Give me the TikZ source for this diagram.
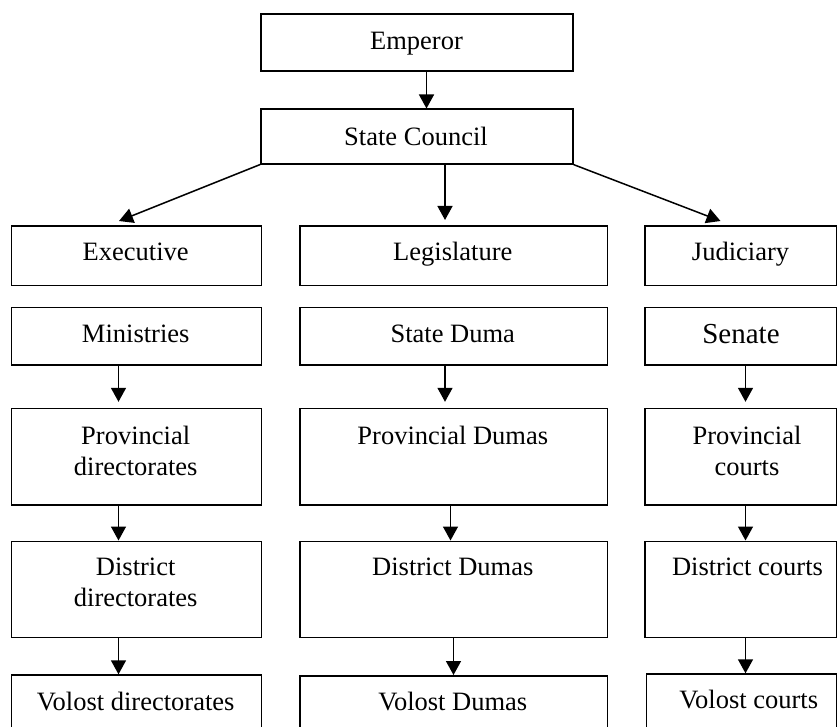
\documentclass[tikz,border=0pt]{standalone}
\usepackage{fontspec}
\setmainfont{Liberation Serif}
\usetikzlibrary{arrows.meta,calc}
\begin{document}
\begin{tikzpicture}[x=1pt,y=-1pt,
  box/.style={draw, line width=1.6pt, inner sep=0pt, anchor=north west},
  txt/.style={inner sep=0pt, anchor=base, font=\fontsize{26.5}{31}\selectfont},
  arr/.style={line width=1.5pt, -{Triangle[length=14pt,width=15pt]}}]
\useasboundingbox (0,0) rectangle (837,727);
\fill[white] (0,0) rectangle (837,727);
\clip (0,0) rectangle (837,727);

% top boxes
\node[box, minimum width=312pt, minimum height=57.5pt] (emp) at (260,13) {};
\node[box, minimum width=312pt, minimum height=54.5pt] (sc) at (260,108.5) {};
\node[txt] (temp) at (416.5,49.3) {Emperor};
\node[txt] (tsc) at (416,145.5) {State Council};

% column 1
\node[box, minimum width=250pt, minimum height=59.7pt] (exec) at (10.7,225) {};
\node[box, minimum width=250pt, minimum height=57.5pt] (min) at (10.7,306.5) {};
\node[box, minimum width=250pt, minimum height=96.2pt] (prov1) at (10.7,407.8) {};
\node[box, minimum width=250pt, minimum height=96.1pt] (dist1) at (10.7,540.5) {};
\node[box, minimum width=250pt, minimum height=80pt] (vol1) at (10.7,674.3) {};

% column 2
\node[box, minimum width=307.5pt, minimum height=59.7pt] (leg) at (299,225) {};
\node[box, minimum width=307.5pt, minimum height=57.5pt] (sd) at (299,306.5) {};
\node[box, minimum width=307.5pt, minimum height=96.2pt] (prov2) at (299,407.8) {};
\node[box, minimum width=307.5pt, minimum height=96.1pt] (dist2) at (299,540.5) {};
\node[box, minimum width=307.5pt, minimum height=80pt] (vol2) at (299,675) {};

% column 3
\node[box, minimum width=191.6pt, minimum height=59.7pt] (jud) at (644.4,225) {};
\node[box, minimum width=191.6pt, minimum height=57.5pt] (sen) at (644.4,306.5) {};
\node[box, minimum width=191.6pt, minimum height=96.2pt] (prov3) at (644.4,407.8) {};
\node[box, minimum width=191.6pt, minimum height=96.1pt] (dist3) at (644.4,540.5) {};
\node[box, minimum width=190.3pt, minimum height=80pt] (vol3) at (645.7,673.3) {};

% texts column 1
\node[txt] (texec) at (135.7,260) {Executive};
\node[txt] (tmin) at (135.7,342) {Ministries};
\node[txt] (tprov1a) at (135.7,444) {Provincial};
\node[txt] (tprov1b) at (135.7,475) {directorates};
\node[txt] (tdist1a) at (135.7,575) {District};
\node[txt] (tdist1b) at (135.7,606) {directorates};
\node[txt] (tvol1) at (135.7,710) {Volost directorates};

% texts column 2
\node[txt] (tleg) at (452.8,260) {Legislature};
\node[txt] (tsd) at (452.8,342) {State Duma};
\node[txt] (tprov2) at (452.8,444) {Provincial Dumas};
\node[txt] (tdist2) at (452.8,575) {District Dumas};
\node[txt] (tvol2) at (452.8,710) {Volost Dumas};

% texts column 3
\node[txt] (tjud) at (740.5,260) {Judiciary};
\node[txt, font=\fontsize{29}{34}\selectfont] (tsen) at (741,343) {Senate};
\node[txt] (tprov3a) at (747,444) {Provincial};
\node[txt] (tprov3b) at (747,475) {courts};
\node[txt] (tdist3) at (747.5,575) {District courts};
\node[txt] (tvol3) at (748.8,708.3) {Volost courts};

% arrow columns
\coordinate (a0) at (426.5,0);
\coordinate (c1) at (118.5,0);
\coordinate (ce) at (119,0);
\coordinate (cj) at (720.5,0);
\coordinate (l1) at (445,0);
\coordinate (l2) at (450.5,0);
\coordinate (l3) at (453.5,0);
\coordinate (c3) at (745.5,0);

\draw[arr] (emp.south -| a0) -- (sc.north -| a0);
\draw[arr] (sc.south west) -- ([yshift=4pt]exec.north -| ce);
\draw[arr] (sc.south -| l1) -- ([yshift=5pt]leg.north -| l1);
\draw[arr] (sc.south east) -- ([yshift=4pt]jud.north -| cj);

\draw[arr] (min.south -| c1) -- ([yshift=6pt]prov1.north -| c1);
\draw[arr] (prov1.south -| c1) -- (dist1.north -| c1);
\draw[arr] (dist1.south -| c1) -- (vol1.north -| c1);

\draw[arr] (sd.south -| l1) -- ([yshift=6pt]prov2.north -| l1);
\draw[arr] (prov2.south -| l2) -- (dist2.north -| l2);
\draw[arr] (dist2.south -| l3) -- (vol2.north -| l3);

\draw[arr] (sen.south -| c3) -- ([yshift=6pt]prov3.north -| c3);
\draw[arr] (prov3.south -| c3) -- (dist3.north -| c3);
\draw[arr] (dist3.south -| c3) -- (vol3.north -| c3);
\end{tikzpicture}
\end{document}
